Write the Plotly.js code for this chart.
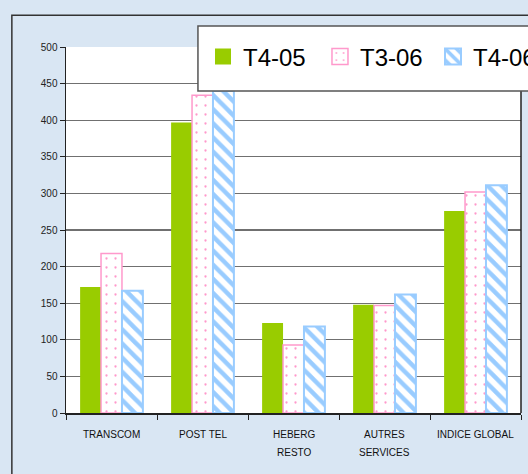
<!DOCTYPE html>
<html>
<head>
<meta charset="utf-8">
<script src="https://cdn.plot.ly/plotly-3.0.1.min.js"></script>
<style>html,body{margin:0;padding:0;}#chart{width:528px;height:474px;}</style>
</head>
<body>
<div id="chart"></div>
<script>
const categories = ["TRANSCOM", "POST TEL", "HEBERG RESTO", "AUTRES SERVICES", "INDICE GLOBAL"];
const labelLine1 = ["TRANSCOM", "POST TEL", "HEBERG", "AUTRES", "INDICE GLOBAL"];
const labelLine2 = ["", "", "RESTO", "SERVICES", ""];
const seriesNames = ["T4-05", "T3-06", "T4-06"];
const t4_05 = [172, 397, 123, 148, 276];
const t3_06 = [218, 434, 93, 147, 302];
const t4_06 = [167, 440, 118, 162, 311];
const yTicks = [0, 50, 100, 150, 200, 250, 300, 350, 400, 450, 500];

const traces = [
  {type: 'bar', name: seriesNames[0], x: categories, y: t4_05, legend: 'legend2',
   marker: {color: '#99cc00', line: {color: '#99cc00', width: 0}}},
  {type: 'bar', name: seriesNames[1], x: categories, y: t3_06, legend: 'legend3',
   marker: {color: '#ffffff', line: {color: '#ff99cc', width: 1.5},
            pattern: {shape: '.', fgcolor: '#ff99cc', bgcolor: '#ffffff', size: 9, solidity: 0.05}}},
  {type: 'bar', name: seriesNames[2], x: categories, y: t4_06, legend: 'legend4',
   marker: {color: '#ffffff', line: {color: '#99ccff', width: 2},
            pattern: {shape: '\\', fgcolor: '#99ccff', bgcolor: '#ffffff', size: 10, solidity: 0.45}}}
];

const annotations = [];
categories.forEach((c, i) => {
  annotations.push({xref: 'x', yref: 'paper', x: c, y: 0, yanchor: 'middle', yshift: -21,
    text: labelLine1[i], showarrow: false, font: {size: 10, color: '#111'}});
  if (labelLine2[i]) annotations.push({xref: 'x', yref: 'paper', x: c, y: 0, yanchor: 'middle', yshift: -39,
    text: labelLine2[i], showarrow: false, font: {size: 10, color: '#111'}});
});

function legendAt(x) {
  return {orientation: 'h', x: x, y: 0.9727, xanchor: 'left', yanchor: 'middle',
          bgcolor: 'rgba(0,0,0,0)', borderwidth: 0, font: {size: 24, color: '#000'}};
}

const layout = {
  width: 528, height: 474,
  margin: {l: 66, r: 7, t: 47, b: 61, autoexpand: false},
  paper_bgcolor: '#d9e6f3',
  plot_bgcolor: '#ffffff',
  barmode: 'group', bargap: 0.31, bargroupgap: 0,
  font: {family: 'Liberation Sans, Arial, sans-serif', color: '#111111', size: 10},
  xaxis: {type: 'category', tickson: 'boundaries', ticks: 'outside', ticklen: 5, tickcolor: '#222',
          showline: true, linecolor: '#222', linewidth: 1.5, showgrid: false,
          showticklabels: false, fixedrange: true},
  yaxis: {range: [0, 500], tickvals: yTicks, ticktext: yTicks.map(String), ticks: 'outside', ticklen: 5,
          tickcolor: '#222', showline: true, linecolor: '#222', linewidth: 1.5,
          showgrid: true, gridcolor: '#707070', gridwidth: 1.3, zeroline: false,
          tickfont: {size: 10, color: '#222'}, fixedrange: true},
  legend2: legendAt(0.3011),
  legend3: legendAt(0.5582),
  legend4: legendAt(0.8066),
  annotations: annotations,
  shapes: [
    {type: 'rect', xref: 'paper', yref: 'paper', x0: -0.119, x1: 1.2, y0: -0.5, y1: 1.087,
     line: {color: '#333333', width: 1.5}, fillcolor: 'rgba(0,0,0,0)', layer: 'below'},
    {type: 'line', xref: 'paper', yref: 'paper', x0: 1, x1: 1, y0: 0, y1: 1,
     line: {color: '#222', width: 1.5}},
    {type: 'rect', xref: 'paper', yref: 'paper', x0: 0.290, x1: 1.2, y0: 0.8798, y1: 1.0574,
     line: {color: '#555555', width: 1.5}, fillcolor: '#ffffff', layer: 'above'}
  ]
};

Plotly.newPlot('chart', traces, layout, {displayModeBar: false, staticPlot: true}).then(gd => {
  gd.querySelectorAll('.legendpoints path').forEach(p => {
    p.setAttribute('d', 'M8,8H-8V-8H8Z');
  });
});
</script>
</body>
</html>
